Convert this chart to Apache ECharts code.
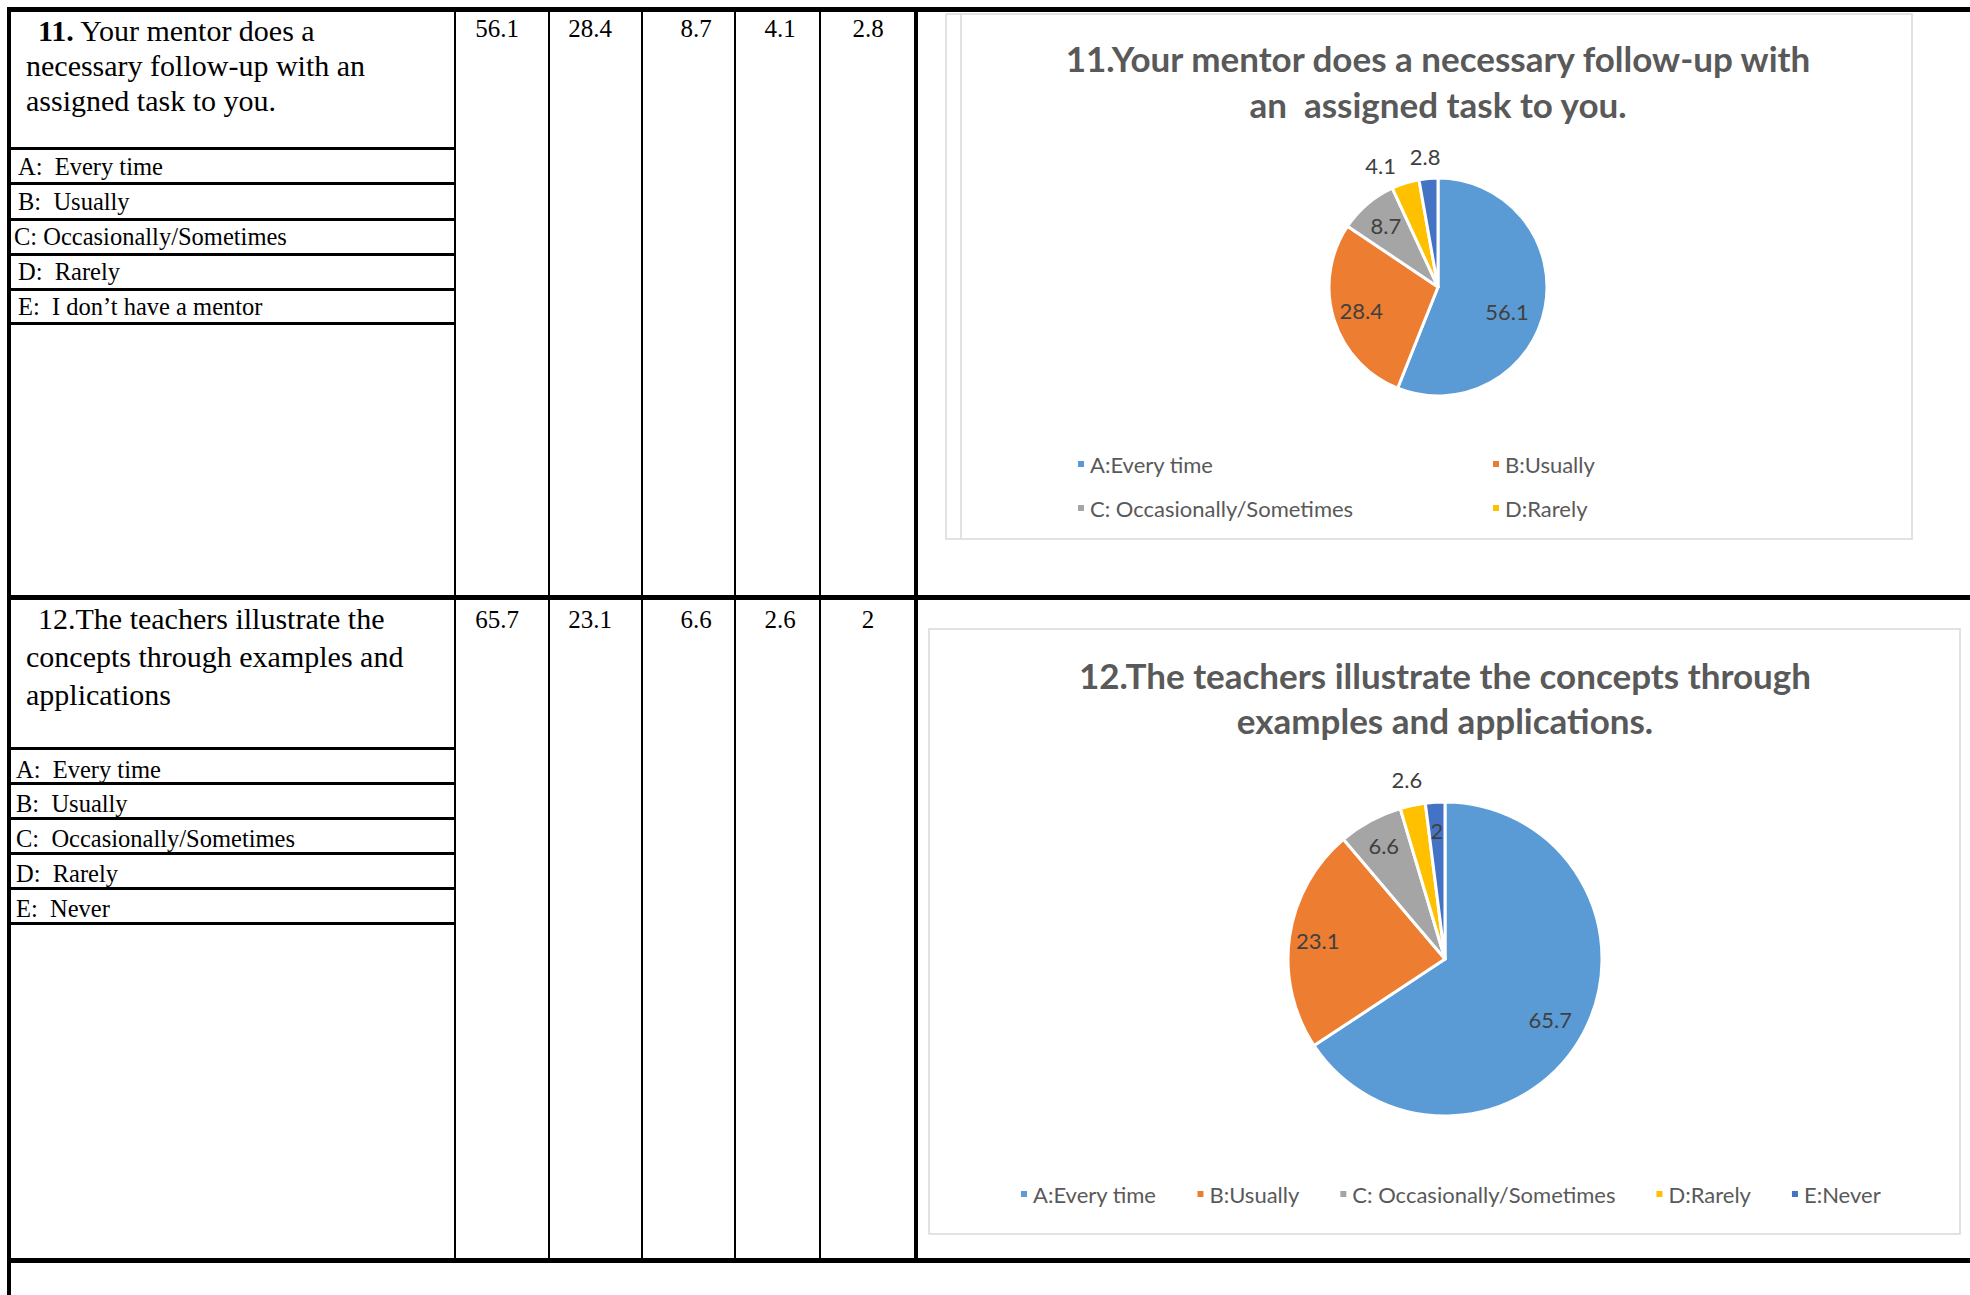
<!DOCTYPE html>
<html>
<head>
<meta charset="utf-8">
<script src="https://cdn.jsdelivr.net/npm/echarts@6/dist/echarts.min.js"></script>
<style>
html,body{margin:0;padding:0;background:#fff}
#page{position:relative;width:1970px;height:1295px;overflow:hidden}
#chart{position:absolute;left:0;top:0;width:1970px;height:1295px}
#table{position:absolute;left:0;top:0;width:1970px;height:1295px;pointer-events:none}
.ln{position:absolute;background:#000}
.tx{position:absolute;font-family:"Liberation Serif","Times New Roman",serif;color:#000;white-space:pre}
</style>
</head>
<body>
<div id="page"><div id="chart"></div><div id="table"></div></div>
<script>
// survey data (percent)
const q11Names = ["A:Every time", "B:Usually", "C: Occasionally/Sometimes", "D:Rarely", "E:I don’t have a mentor"]
const q11Values = [56.1, 28.4, 8.7, 4.1, 2.8]
const q12Names = ["A:Every time", "B:Usually", "C: Occasionally/Sometimes", "D:Rarely", "E:Never"]
const q12Values = [65.7, 23.1, 6.6, 2.6, 2]

// table text
const q11Options = ["A:  Every time", "B:  Usually", "C: Occasionally/Sometimes", "D:  Rarely", "E:  I don’t have a mentor"]
const q12Options = ["A:  Every time", "B:  Usually", "C:  Occasionally/Sometimes", "D:  Rarely", "E:  Never"]
const q11Lines = ["Your mentor does a", "necessary follow-up with an", "assigned task to you."]
const q12Lines = ["12.The teachers illustrate the", "concepts through examples and", "applications"]
const q11Title = "11.Your mentor does a necessary follow-up with\nan  assigned task to you."
const q12Title = "12.The teachers illustrate the concepts through\nexamples and applications."
const sliceColors = ["#5B9BD5", "#ED7D31", "#A5A5A5", "#FFC000", "#4472C4"]

// ---- table (plain html) ----
const T = document.getElementById("table")
function bar(x, y, w, h) {
  const d = document.createElement("div")
  d.className = "ln"
  d.style.cssText = `left:${x}px;top:${y}px;width:${w}px;height:${h}px`
  T.appendChild(d)
}
function txt(s, x, cy, size, lh, extra) {
  const d = document.createElement("div")
  d.className = "tx"
  d.style.cssText = `left:${x}px;top:${cy - lh / 2}px;font-size:${size}px;line-height:${lh}px;` + (extra || "")
  d.innerHTML = s
  T.appendChild(d)
}
bar(7, 7, 1963, 5)
bar(7, 7, 4, 1288)
bar(7, 595, 1963, 5)
bar(7, 1258, 1963, 5)
;[454, 548, 641, 734, 819].forEach(x => bar(x, 12, 2, 1246))
bar(914, 12, 4, 1246)
;[147, 182, 218, 253, 288, 322].forEach(y => bar(11, y, 444, 3))
;[747, 782, 817, 852, 887, 922].forEach(y => bar(11, y, 444, 3))

txt("<b>11.</b> " + q11Lines[0], 38, 31, 30, 36)
txt(q11Lines[1], 26, 66, 30, 36)
txt(q11Lines[2], 26, 101, 30, 36)
txt(q12Lines[0], 38, 619, 30, 38)
txt(q12Lines[1], 26, 657, 30, 38)
txt(q12Lines[2], 26, 695, 30, 38)

const opt1Y = [167, 202, 237, 272, 307]
const opt2Y = [770, 804, 839, 874, 909]
q11Options.forEach((s, i) => txt(s, i == 2 ? 14 : 18, opt1Y[i], 24.5, 30))
q12Options.forEach((s, i) => txt(s, 16, opt2Y[i], 24.5, 30))

const colCx = [497, 590, 696, 780, 868]
q11Values.forEach((v, i) => txt(String(v), colCx[i] - 45, 29, 25, 30, "width:90px;text-align:center"))
q12Values.forEach((v, i) => txt(String(v), colCx[i] - 45, 620, 25, 30, "width:90px;text-align:center"))

// ---- pies ----
const font = "Lato"
const labelText = { color: "#404040", fontFamily: font, fontSize: 22 }
// small slices get their value outside the pie; len/len2 place it
function pieSeries(names, values, center, r, outside) {
  return {
    type: "pie", center: center, radius: [0, r], startAngle: 90, clockwise: true,
    avoidLabelOverlap: false,
    label: Object.assign({ show: false, position: "outside", formatter: "{c}" }, labelText),
    labelLine: { show: false },
    itemStyle: { borderColor: "#fff", borderWidth: 3 },
    emphasis: { disabled: true },
    data: names.map((n, i) => {
      const d = { name: n, value: values[i], itemStyle: { color: sliceColors[i] } }
      if (outside[i]) {
        d.label = { show: true }
        d.labelLine = { show: false, length: outside[i][0], length2: outside[i][1] }
      }
      return d
    })
  }
}
// transparent copy, only used to put the inside labels at a given share of the radius
function labelSeries(names, values, center, r, which, nudge) {
  return {
    type: "pie", center: center, radius: [0, r], startAngle: 90, clockwise: true,
    silent: true, legendHoverLink: false, avoidLabelOverlap: false,
    labelLine: { show: false },
    itemStyle: { color: "rgba(0,0,0,0)", borderWidth: 0 },
    emphasis: { disabled: true },
    label: Object.assign({ show: true, position: "inside", formatter: "{c}" }, labelText),
    labelLayout: p => (nudge[p.dataIndex] ? { dx: nudge[p.dataIndex][0], dy: nudge[p.dataIndex][1] } : {}),
    data: names.map((n, i) => ({ name: n, value: values[i], label: { show: which.includes(i) } }))
  }
}

const r1 = 109, c1 = [1438, 287]
const r2 = 157, c2 = [1445, 959]
const legendBase = {
  icon: "rect", itemWidth: 8, itemHeight: 8, padding: 0, selectedMode: false,
  textStyle: { fontFamily: font, fontSize: 22, color: "#595959", lineHeight: 24 }
}
const titleStyle = { fontFamily: font, fontWeight: "bold", fontSize: 35, color: "#595959" }

const chart = echarts.init(document.getElementById("chart"), null, { renderer: "svg" })
chart.setOption({
  animation: false,
  title: [
    { text: q11Title, left: c1[0], top: 35, textAlign: "center", padding: 0, textStyle: Object.assign({ lineHeight: 46 }, titleStyle) },
    { text: q12Title, left: c2[0], top: 652, textAlign: "center", padding: 0, textStyle: Object.assign({ lineHeight: 45 }, titleStyle) }
  ],
  legend: [
    Object.assign({ data: [q11Names[0], q11Names[2]], orient: "vertical", left: 1076, top: 452, itemGap: 20 }, legendBase),
    Object.assign({ data: [q11Names[1], q11Names[3]], orient: "vertical", left: 1491, top: 452, itemGap: 20 }, legendBase),
    Object.assign({ data: q12Names, orient: "horizontal", left: 1019, top: 1182, itemGap: 39 }, legendBase)
  ],
  graphic: [
    { type: "rect", silent: true, shape: { x: 946, y: 14, width: 966, height: 525 }, style: { fill: "none", stroke: "#d9d9d9", lineWidth: 1.5 } },
    { type: "line", silent: true, shape: { x1: 961, y1: 14, x2: 961, y2: 539 }, style: { stroke: "#d9d9d9", lineWidth: 1.5 } },
    { type: "rect", silent: true, shape: { x: 929, y: 629, width: 1031, height: 605 }, style: { fill: "none", stroke: "#d9d9d9", lineWidth: 1.5 } }
  ],
  series: [
    pieSeries(q11Names, q11Values, c1, r1, { 3: [18, -1], 4: [22, -19] }),
    pieSeries(q12Names, q12Values, c2, r2, { 3: [26, -20] }),
    labelSeries(q11Names, q11Values, c1, r1 * 1.42, [0, 1, 2], { 0: [-10, 9] }),
    labelSeries(q12Names, q12Values, c2, r2 * 1.6, [0, 1, 2, 4], { 0: [-8, 0] })
  ]
})
</script>
</body>
</html>
